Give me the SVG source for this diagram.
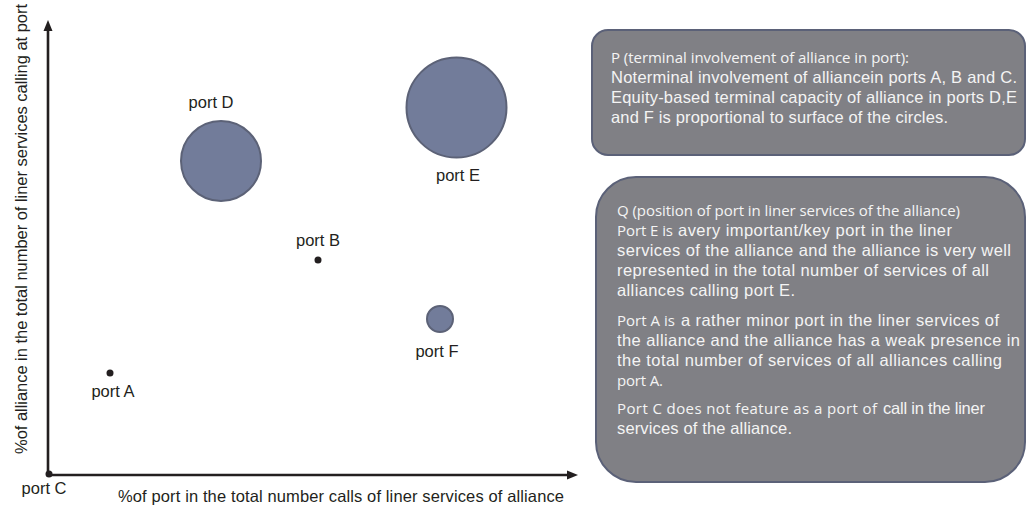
<svg xmlns="http://www.w3.org/2000/svg" width="1027" height="508" viewBox="0 0 1027 508">
<style>
.lbl{font-family:"Liberation Sans",Arial,sans-serif;font-size:16.5px;fill:#231f20}
.ax{stroke:#231f20;stroke-width:2.6;fill:none}
.bub{fill:#727c9a;stroke:#5c6277;stroke-width:2}
.dot{fill:#231f20}
.box{fill:#808085;stroke:#5b6178;stroke-width:2}
.bt{font-family:"Liberation Sans",Arial,sans-serif;font-size:16.5px;fill:#f4f4f4}
.my{font-family:"Open Sans","Liberation Sans",sans-serif;font-size:15px;fill:#f4f4f4}
</style>
<rect width="1027" height="508" fill="#ffffff"/>
<g id="connectors">
<line class="ax" x1="48" y1="475" x2="48" y2="30"/>
<polygon points="48,20 43.5,31 52.5,31" fill="#231f20"/>
<line class="ax" x1="48" y1="475" x2="568" y2="475"/>
<polygon points="578,475 567,470.5 567,479.5" fill="#231f20"/>
</g>
<g id="axis-labels">
<text class="lbl" transform="translate(27,229) rotate(-90)" text-anchor="middle" textLength="450">%of alliance in the total number of liner services calling at port</text>
<text class="lbl" x="341" y="502" text-anchor="middle" textLength="446">%of port in the total number calls of liner services of alliance</text>
</g>
<g id="port-C">
<circle class="dot" cx="49" cy="474" r="3.5"/>
<text class="lbl" x="44" y="494" text-anchor="middle">port C</text>
</g>
<g id="port-A">
<circle class="dot" cx="110" cy="373" r="3.5"/>
<text class="lbl" x="113" y="397" text-anchor="middle">port A</text>
</g>
<g id="port-B">
<circle class="dot" cx="318" cy="260" r="3.5"/>
<text class="lbl" x="318" y="246" text-anchor="middle">port B</text>
</g>
<g id="port-D">
<circle class="bub" cx="221" cy="161" r="40"/>
<text class="lbl" x="211" y="108" text-anchor="middle">port D</text>
</g>
<g id="port-E">
<circle class="bub" cx="456.5" cy="107.5" r="50"/>
<text class="lbl" x="458" y="181" text-anchor="middle">port E</text>
</g>
<g id="port-F">
<circle class="bub" cx="440" cy="319" r="13"/>
<text class="lbl" x="437" y="357" text-anchor="middle">port F</text>
</g>
<g id="box-P">
<rect class="box" x="592" y="30" width="433" height="125" rx="16"/>
<text class="my" x="611" y="63" textLength="298">P (terminal involvement of alliance in port):</text>
<text class="bt" x="611" y="83" textLength="406">Noterminal involvement of alliancein ports A, B and C.</text>
<text class="bt" x="611" y="103" textLength="406">Equity-based terminal capacity of alliance in ports D,E</text>
<text class="bt" x="611" y="123" textLength="337">and F is proportional to surface of the circles.</text>
</g>
<g id="box-Q">
<rect class="box" x="596" y="177" width="429" height="305" rx="40"/>
<text class="my" x="617" y="216" textLength="343">Q (position of port in liner services of the alliance)</text>
<text class="my" x="617" y="236" textLength="56">Port E is</text>
<text class="bt" x="678" y="236" textLength="274">avery important/key port in the liner</text>
<text class="bt" x="617" y="256" textLength="394">services of the alliance and the alliance is very well</text>
<text class="bt" x="617" y="276" textLength="372">represented in the total number of services of all</text>
<text class="bt" x="617" y="296" textLength="178">alliances calling port E.</text>
<text class="my" x="617" y="326" textLength="58">Port A is</text>
<text class="bt" x="681" y="326" textLength="318">a rather minor port in the liner services of</text>
<text class="bt" x="617" y="346" textLength="403">the alliance and the alliance has a weak presence in</text>
<text class="bt" x="617" y="366" textLength="385">the total number of services of all alliances calling</text>
<text class="my" x="617" y="386" textLength="46">port A.</text>
<text class="my" x="617" y="414" textLength="260">Port C does not feature as a port of</text>
<text class="bt" x="883" y="414" textLength="102">call in the liner</text>
<text class="bt" x="617" y="434" textLength="175">services of the alliance.</text>
</g>
</svg>
